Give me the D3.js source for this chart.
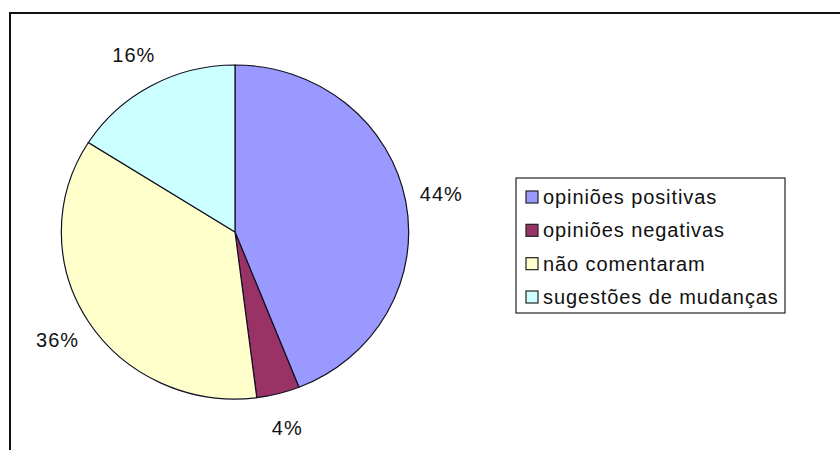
<!DOCTYPE html>
<html>
<head>
<meta charset="utf-8">
<script src="https://cdn.jsdelivr.net/npm/d3@7"></script>
<style>
  html, body { margin: 0; padding: 0; background: #fff; }
  svg { display: block; }
  text { font-family: "Liberation Sans", Arial, sans-serif; fill: #111; }
</style>
</head>
<body>
<svg id="chart" width="840" height="450"></svg>
<script>
const categories = ["opiniões positivas", "opiniões negativas", "não comentaram", "sugestões de mudanças"];
const values = [44, 4, 36, 16];
const valueLabels = ["44%", "4%", "36%", "16%"];
const colors = ["#9999FF", "#993366", "#FFFFCC", "#CCFFFF"];

const svg = d3.select("#chart");

// outer frame (only top/left visible)
svg.append("rect")
  .attr("x", 10).attr("y", 13)
  .attr("width", 860).attr("height", 480)
  .attr("fill", "none").attr("stroke", "#111").attr("stroke-width", 2);

const cx = 235, cy = 232, r = 167, sx = 1.04;
const pie = d3.pie().sort(null).value(d => d)(values);
const arc = d3.arc().innerRadius(0).outerRadius(r);
const labelArc = d3.arc().innerRadius(202).outerRadius(202);

const g = svg.append("g").attr("transform", `translate(${cx},${cy}) scale(${sx},1)`);
g.selectAll("path").data(pie).enter().append("path")
  .attr("d", arc)
  .attr("fill", (d, i) => colors[i])
  .attr("stroke", "#111122")
  .attr("stroke-width", 1.2)
  .attr("vector-effect", "non-scaling-stroke");

svg.append("g").selectAll("text").data(pie).enter().append("text")
  .attr("x", d => cx + labelArc.centroid(d)[0] * sx)
  .attr("y", d => cy + labelArc.centroid(d)[1])
  .attr("dy", "0.35em")
  .attr("text-anchor", "middle")
  .attr("font-size", 20)
  .attr("letter-spacing", 1)
  .text((d, i) => valueLabels[i]);

// legend
const lg = svg.append("g").attr("transform", "translate(516,178)");
lg.append("rect").attr("x", 0).attr("y", 0).attr("width", 269).attr("height", 135)
  .attr("fill", "#fff").attr("stroke", "#222").attr("stroke-width", 1.2);
const rowY = d3.scalePoint().domain(categories).range([19, 119]);
const rows = lg.selectAll("g.row").data(categories).enter().append("g")
  .attr("transform", d => `translate(0,${rowY(d)})`);
rows.append("rect").attr("x", 10).attr("y", -6).attr("width", 12).attr("height", 12)
  .attr("fill", (d, i) => colors[i]).attr("stroke", "#222").attr("stroke-width", 1.2);
rows.append("text").attr("x", 27).attr("y", 0).attr("dy", "0.35em")
  .attr("font-size", 20).attr("letter-spacing", 0.9).text(d => d);
</script>
</body>
</html>
